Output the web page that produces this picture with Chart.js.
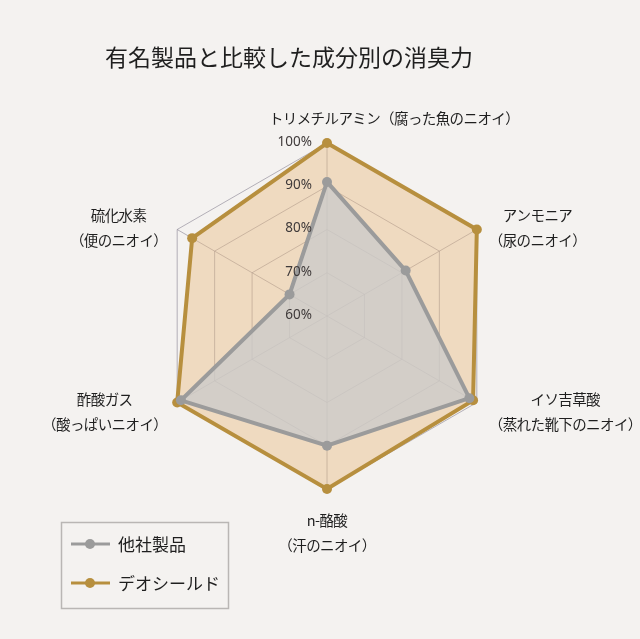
<!DOCTYPE html>
<html><head><meta charset="utf-8">
<script src="https://cdn.jsdelivr.net/npm/chart.js@4.4.1/dist/chart.umd.min.js"></script>
<style>
html,body{margin:0;padding:0;background:#f4f2f0;}
#wrap{width:640px;height:639px;position:relative;}
canvas{display:block;}
</style>
</head><body>
<div id="wrap"><canvas id="c" width="640" height="639"></canvas></div>
<script>
// ---- data ----
const titleText = '有名製品と比較した成分別の消臭力';
const categories = [
  ['トリメチルアミン（腐った魚のニオイ）'],
  ['アンモニア', '（尿のニオイ）'],
  ['イソ吉草酸', '（蒸れた靴下のニオイ）'],
  ['n-酪酸', '（汗のニオイ）'],
  ['酢酸ガス', '（酸っぱいニオイ）'],
  ['硫化水素', '（便のニオイ）']
];
const seriesNames = ['他社製品', 'デオシールド'];
const otherValues = [91, 81, 98, 90, 99, 70];
const deoValues = [100, 100, 99, 100, 100, 96];
const tickValues = [60, 70, 80, 90, 100];
const tickLabels = ['60%', '70%', '80%', '90%', '100%'];

// ---- styles ----
const JP = '"Noto Sans CJK JP", "Noto Sans", sans-serif';
const GRAY = '#9b9b9b';
const GOLD = '#b78f3e';

const bgPlugin = {
  id: 'bg',
  beforeDraw(chart) {
    const ctx = chart.ctx;
    ctx.save();
    ctx.fillStyle = '#f4f2f0';
    ctx.fillRect(0, 0, chart.width, chart.height);
    ctx.restore();
  }
};

const textPlugin = {
  id: 'texts',
  afterDatasetsDraw(chart) {
    const ctx = chart.ctx;
    const scale = chart.scales.r;
    ctx.save();
    ctx.font = '13.5px "Noto Sans", sans-serif';
    ctx.fillStyle = '#3f3a3a';
    ctx.textAlign = 'right';
    ctx.textBaseline = 'middle';
    scale.ticks.forEach((t, i) => {
      const p = scale.getPointPositionForValue(0, t.value);
      ctx.fillText(tickLabels[i], p.x - 15, p.y - 1);
    });
    ctx.restore();
  },
  afterDraw(chart) {
    const ctx = chart.ctx;
    const scale = chart.scales.r;
    ctx.save();
    if ('letterSpacing' in ctx) ctx.letterSpacing = '-0.6px';
    ctx.font = '14.5px ' + JP;
    ctx.fillStyle = '#1f1f1f';
    ctx.textAlign = 'center';
    ctx.textBaseline = 'middle';
    categories.forEach((lines, i) => {
      const v = scale.getPointPosition(i, scale.drawingArea);
      const bw = Math.max(...lines.map(l => ctx.measureText(l).width));
      const dx = v.x - scale.xCenter, dy = v.y - scale.yCenter;
      let cx, cy0;
      if (Math.abs(dx) < 1) {
        if (dy < 0) { cx = v.x + 67; cy0 = v.y - 25; }
        else { cx = v.x; cy0 = v.y + 31; }
      } else {
        cx = dx > 0 ? v.x + 12 + bw / 2 : v.x - 10 - bw / 2;
        cy0 = dy < 0 ? v.y - 14 : v.y - 3;
      }
      lines.forEach((l, k) => ctx.fillText(l, cx, cy0 + k * 25));
    });
    if ('letterSpacing' in ctx) ctx.letterSpacing = '0px';
    // title
    ctx.font = '23px ' + JP;
    ctx.fillStyle = '#1f1f1f';
    ctx.fillText(titleText, 289, 57);
    // legend
    ctx.strokeStyle = '#b9b6b4';
    ctx.lineWidth = 1.5;
    ctx.strokeRect(61.5, 522.5, 167, 86);
    ctx.textAlign = 'left';
    ctx.font = '17px ' + JP;
    chart.data.datasets.forEach((ds, i) => {
      const y = 544 + i * 39;
      ctx.strokeStyle = ds.borderColor;
      ctx.lineWidth = 3;
      ctx.beginPath(); ctx.moveTo(71, y); ctx.lineTo(110, y); ctx.stroke();
      ctx.fillStyle = ds.borderColor;
      ctx.beginPath(); ctx.arc(90, y, 5, 0, Math.PI * 2); ctx.fill();
      ctx.fillStyle = '#1f1f1f';
      ctx.fillText(ds.label, 118, y + 1);
    });
    ctx.restore();
  }
};

new Chart(document.getElementById('c'), {
  type: 'radar',
  data: {
    labels: categories,
    datasets: [
      {
        label: seriesNames[0],
        data: otherValues,
        borderColor: GRAY,
        backgroundColor: 'rgba(203,203,203,0.78)',
        borderWidth: 4,
        pointRadius: 5,
        pointBorderWidth: 0,
        pointBackgroundColor: GRAY,
        fill: true
      },
      {
        label: seriesNames[1],
        data: deoValues,
        borderColor: GOLD,
        backgroundColor: 'rgba(232,188,132,0.45)',
        borderWidth: 4,
        pointRadius: 5,
        pointBorderWidth: 0,
        pointBackgroundColor: GOLD,
        fill: true
      }
    ]
  },
  options: {
    responsive: false,
    animation: false,
    layout: { padding: { left: 154, right: 140, top: 143, bottom: 150 } },
    plugins: {
      legend: { display: false },
      title: { display: false },
      tooltip: { enabled: false }
    },
    elements: { line: { tension: 0 } },
    scales: {
      r: {
        min: 60,
        max: 100,
        afterBuildTicks(scale) { scale.ticks = tickValues.map(v => ({ value: v })); },
        ticks: { display: false, stepSize: 10 },
        pointLabels: { display: false },
        grid: { color: 'rgba(135,130,145,0.6)', lineWidth: 1 },
        angleLines: { color: 'rgba(135,130,145,0.6)', lineWidth: 1 }
      }
    }
  },
  plugins: [bgPlugin, textPlugin]
});
</script>
</body></html>
